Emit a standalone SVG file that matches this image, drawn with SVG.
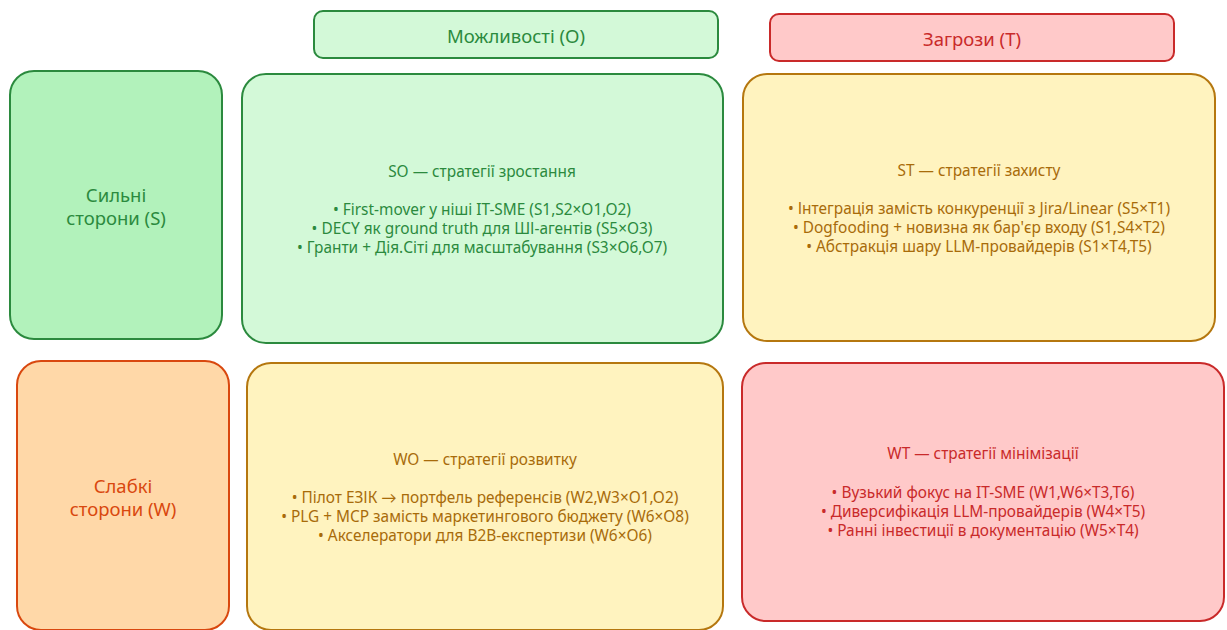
<svg xmlns="http://www.w3.org/2000/svg" width="1227" height="630" viewBox="0 0 1227 630">
<style>
text{font-family:"Noto Sans","Lato","DejaVu Sans",sans-serif;text-anchor:middle;dominant-baseline:central}
.b{stroke-width:2}
.t{font-size:15.4px}
.h{font-size:18.5px}
.g{fill:#b2f2bb;stroke:#2b8a3e}
.lg{fill:#d3f9d8;stroke:#2b8a3e}
.y{fill:#fff3bf;stroke:#b5770f}
.r{fill:#ffc9c9;stroke:#c92a2a}
.o{fill:#ffd8a8;stroke:#d9480f}
.tg{fill:#2b8a3e}
.ty{fill:#a86b0a}
.tr{fill:#c92a2a}
.to{fill:#d9480f}
</style>
<rect width="1227" height="630" fill="#ffffff"/>
<g id="opportunities">
<rect class="b lg" x="314" y="11" width="404" height="47" rx="9"/>
<text class="h tg" x="516" y="35">Можливості (O)</text>
</g>
<g id="threats">
<rect class="b r" x="770" y="14" width="404" height="47" rx="9"/>
<text class="h tr" x="972" y="38">Загрози (T)</text>
</g>
<g id="strengths">
<rect class="b g" x="10" y="71" width="212" height="268" rx="24"/>
<text class="h tg" x="116" y="194">Сильні</text>
<text class="h tg" x="116" y="217">сторони (S)</text>
</g>
<g id="weaknesses">
<rect class="b o" x="17" y="361" width="212" height="269" rx="24"/>
<text class="h to" x="123" y="485">Слабкі</text>
<text class="h to" x="123" y="508">сторони (W)</text>
</g>
<g id="so">
<rect class="b lg" x="242" y="74" width="481" height="269" rx="24"/>
<text class="t tg" x="482" y="171">SO — стратегії зростання</text>
<text class="t tg" x="482" y="209">• First-mover у ніші IT-SME (S1,S2×O1,O2)</text>
<text class="t tg" x="482" y="228">• DECY як ground truth для ШІ-агентів (S5×O3)</text>
<text class="t tg" x="482" y="247">• Гранти + Дія.Сіті для масштабування (S3×O6,O7)</text>
</g>
<g id="st">
<rect class="b y" x="743" y="74" width="472" height="267" rx="24"/>
<text class="t ty" x="979" y="170">ST — стратегії захисту</text>
<text class="t ty" x="979" y="208">• Інтеграція замість конкуренції з Jira/Linear (S5×T1)</text>
<text class="t ty" x="979" y="227">• Dogfooding + новизна як бар'єр входу (S1,S4×T2)</text>
<text class="t ty" x="979" y="246">• Абстракція шару LLM-провайдерів (S1×T4,T5)</text>
</g>
<g id="wo">
<rect class="b y" x="247" y="363" width="476" height="267" rx="24"/>
<text class="t ty" x="485" y="459">WO — стратегії розвитку</text>
<text class="t ty" x="485" y="497">• Пілот ЕЗІК → портфель референсів (W2,W3×O1,O2)</text>
<text class="t ty" x="485" y="516">• PLG + MCP замість маркетингового бюджету (W6×O8)</text>
<text class="t ty" x="485" y="535">• Акселератори для B2B-експертизи (W6×O6)</text>
</g>
<g id="wt">
<rect class="b r" x="742" y="363" width="482" height="258" rx="24"/>
<text class="t tr" x="983" y="453">WT — стратегії мінімізації</text>
<text class="t tr" x="983" y="492">• Вузький фокус на IT-SME (W1,W6×T3,T6)</text>
<text class="t tr" x="983" y="511">• Диверсифікація LLM-провайдерів (W4×T5)</text>
<text class="t tr" x="983" y="530">• Ранні інвестиції в документацію (W5×T4)</text>
</g>
<g id="connectors"/>
</svg>
